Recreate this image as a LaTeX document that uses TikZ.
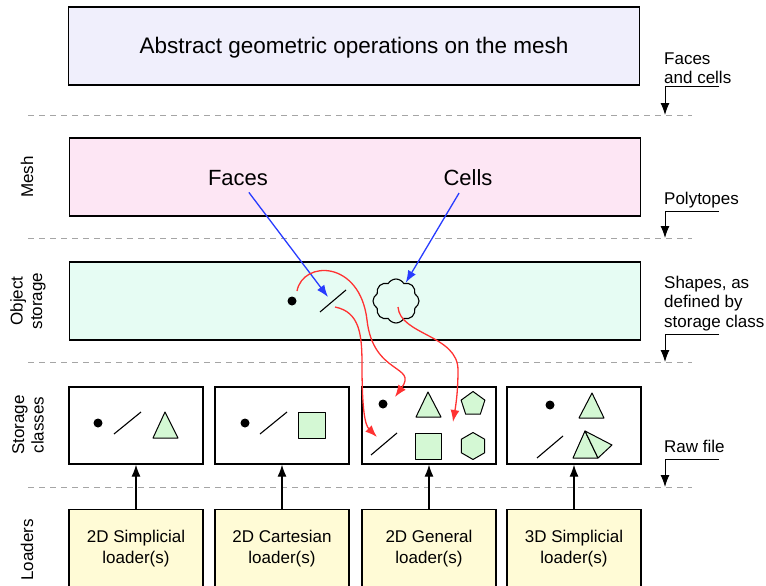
\documentclass[tikz,border=0pt]{standalone}
\usepackage{fontspec}
\setmainfont{Liberation Sans}
\usetikzlibrary{shapes,arrows.meta}

\definecolor{lavanda}{RGB}{240,239,252}
\definecolor{roz}{RGB}{253,230,244}
\definecolor{menta}{RGB}{230,252,243}
\definecolor{crem}{RGB}{255,251,214}
\definecolor{verde}{RGB}{212,248,212}
\definecolor{albastru}{RGB}{40,60,255}
\definecolor{rosu}{RGB}{255,50,50}
\definecolor{gri}{RGB}{165,165,165}

\newcommand{\loadertxt}[1]{\raisebox{-5pt}[0pt][0pt]{\begin{tabular}{@{}c@{}}#1\end{tabular}}}

\begin{document}
\begin{tikzpicture}[x=1pt, y=-1pt, >={Latex[length=12pt,width=9pt]},
    strat/.style={draw, rectangle, line width=1.3pt, minimum width=571pt, minimum height=78pt},
    cutie/.style={draw, rectangle, line width=1.3pt, minimum width=134pt, minimum height=77pt},
    separator/.style={gri, dash pattern=on 6pt off 5pt, line width=1pt},
    eticheta/.style={font=\fontsize{17}{19.5}\selectfont, align=left, inner sep=0pt, anchor=south west},
    lateral/.style={font=\fontsize{17}{19.5}\selectfont, align=center, rotate=90},
    loadertext/.style={font=\fontsize{17}{21}\selectfont},
    forma/.style={draw, fill=verde, line width=1pt, line join=round},
    segment/.style={line width=1.1pt},
    legatura/.style={->, line width=1.3pt}]

  \useasboundingbox (0,0) rectangle (766,586);
  \clip (0,0) rectangle (766,586);

  % Straturi
  \node [strat, fill=lavanda] (operatii) at (354,46) {\raisebox{-8pt}[0pt][0pt]{\fontsize{22.5}{27}\selectfont Abstract geometric operations on the mesh}};
  \node [strat, fill=roz] (mesh) at (355,177) {};
  \node [strat, fill=menta] (obiecte) at (355,301) {};

  \node [font=\fontsize{22}{26}\selectfont] (faces) at (238,178) {Faces};
  \node [font=\fontsize{22}{26}\selectfont] (cells) at (468,178) {Cells};

  % Separatoare
  \draw [separator] (28,115) -- (692,115);
  \draw [separator] (28,238) -- (692,238);
  \draw [separator] (28,362) -- (692,362);
  \draw [separator] (28,487) -- (692,487);

  % Etichete laterale
  \node [lateral] (lmesh) at (27,177) {Mesh};
  \node [lateral] (lobiecte) at (28,301) {Object\\storage};
  \node [lateral] (lclase) at (28,425) {Storage\\classes};
  \node [lateral] (lloaders) at (27,550) {Loaders};

  % Etichete din dreapta
  \node [eticheta] (efaces) at (664,84) {Faces\\and cells};
  \node [eticheta] (epoly) at (664,208) {Polytopes};
  \node [eticheta] (eforme) at (664,331) {Shapes, as\\defined by\\storage class};
  \node [eticheta] (eraw) at (664,453) {Raw file};

  \coordinate (c1) at (719,87);   \coordinate (t1) at (665,115);
  \coordinate (c2) at (719,211);  \coordinate (t2) at (665,238);
  \coordinate (c3) at (719,334);  \coordinate (t3) at (665,362);
  \coordinate (c4) at (719,459);  \coordinate (t4) at (665,487);
  \draw [legatura, line width=1pt] (c1) -| (t1);
  \draw [legatura, line width=1pt] (c2) -| (t2);
  \draw [legatura, line width=1pt] (c3) -| (t3);
  \draw [legatura, line width=1pt] (c4) -| (t4);

  % Obiecte stocate
  \node [circle, fill, inner sep=0pt, minimum size=9pt] (punct) at (292,301) {};
  \draw [segment] (320,312) -- (346,290);
  \node [draw, cloud, cloud puffs=8, cloud puff arc=120, aspect=1, minimum width=46pt, minimum height=44pt, inner sep=0pt, line width=1.1pt] (nor) at (396,301) {};

  % Clase de stocare
  \node [cutie] (clasa1) at (136,425.5) {};
  \node [cutie] (clasa2) at (282,425.5) {};
  \node [cutie] (clasa3) at (429,425.5) {};
  \node [cutie] (clasa4) at (574,425.5) {};

  % clasa 1
  \fill (98,423) circle (4.5pt);
  \draw [segment] (114,434) -- (141,412);
  \draw [forma] (165,412) -- (178,438) -- (153,438) -- cycle;
  % clasa 2
  \fill (245,423) circle (4.5pt);
  \draw [segment] (260,434) -- (287,412);
  \draw [forma] (298,412) rectangle (325,438);
  % clasa 3
  \fill (383,404) circle (4.5pt);
  \draw [forma] (428,392) -- (441,417) -- (416,417) -- cycle;
  \node [forma, regular polygon, regular polygon sides=5, minimum size=25pt, inner sep=0pt] (pentagon) at (473,404) {};
  \draw [segment] (371,455) -- (397,433);
  \draw [forma] (415,433) rectangle (441,459);
  \node [forma, regular polygon, regular polygon sides=6, shape border rotate=30, minimum size=27pt, inner sep=0pt] (hexagon) at (473,446) {};
  % clasa 4
  \fill (550,405) circle (4.5pt);
  \draw [forma] (592,393) -- (604,418) -- (579,418) -- cycle;
  \draw [segment] (537,458) -- (563,436);
  \draw [forma] (585,431) -- (573,458) -- (598,458) -- cycle;
  \draw [forma] (585,431) -- (598,458) -- (612,445) -- cycle;

  % Loadere
  \node [cutie, fill=crem, loadertext] (loader1) at (136,548) {\loadertxt{2D Simplicial\\loader(s)}};
  \node [cutie, fill=crem, loadertext] (loader2) at (282,548) {\loadertxt{2D Cartesian\\loader(s)}};
  \node [cutie, fill=crem, loadertext] (loader3) at (429,548) {\loadertxt{2D General\\loader(s)}};
  \node [cutie, fill=crem, loadertext] (loader4) at (574,548) {\loadertxt{3D Simplicial\\loader(s)}};

  \draw [legatura, line width=1.1pt] (loader1) -- (clasa1);
  \draw [legatura, line width=1.1pt] (loader2) -- (clasa2);
  \draw [legatura, line width=1.1pt] (loader3) -- (clasa3);
  \draw [legatura, line width=1.1pt] (loader4) -- (clasa4);

  % Legaturi albastre
  \coordinate (tintaseg) at (328,297);
  \draw [legatura, albastru, shorten <=4pt] (faces) -- (tintaseg);
  \draw [legatura, albastru, shorten <=4pt] (cells) -- (nor.62);

  % Legaturi rosii
  \coordinate (startpunct) at (297,291);
  \coordinate (startseg) at (335,307);
  \coordinate (startnor) at (398,307);
  \coordinate (tintapunct) at (395,397);
  \coordinate (tintalinie) at (377,437);
  \coordinate (tintaforma) at (453,422);
  \draw [legatura, rosu] (startpunct) .. controls (303,260) and (360,260) .. (367,320)
        .. controls (373,375) and (418,365) .. (tintapunct);
  \draw [legatura, rosu] (startseg) .. controls (360,312) and (362,335) .. (362,365)
        .. controls (362,410) and (365,425) .. (tintalinie);
  \draw [legatura, rosu] (startnor) .. controls (400,335) and (458,335) .. (458,370)
        .. controls (458,395) and (455,410) .. (tintaforma);

\end{tikzpicture}
\end{document}
